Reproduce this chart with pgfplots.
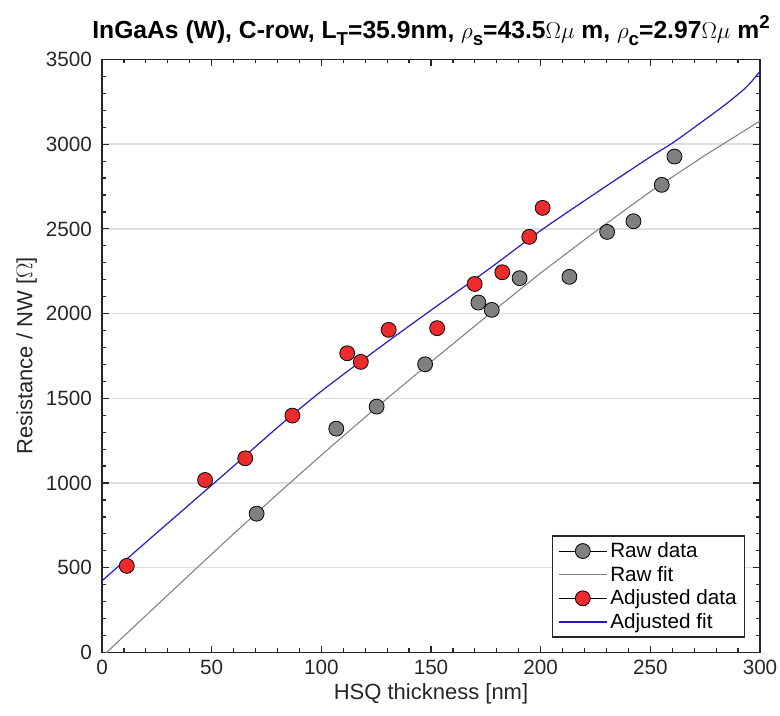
\documentclass[border=0pt]{standalone}
\usepackage{pgfplots}
\pgfplotsset{compat=1.18}
\usepackage{fontspec}
\setmainfont{Liberation Sans}
\usetikzlibrary{calc}
\definecolor{mgray}{RGB}{128,128,128}
\definecolor{mred}{RGB}{236,44,44}
\definecolor{mblue}{RGB}{40,25,200}
\definecolor{axc}{RGB}{38,38,38}
\definecolor{gridc}{RGB}{222,222,222}
\newcommand\tsub[1]{\raisebox{-0.55ex}{\fontsize{14}{15}\selectfont #1}}
\newcommand\tsup[1]{\raisebox{0.75ex}{\fontsize{14}{15}\selectfont #1}}
\pgfplotstableread{
x y
70.5 819
106.8 1321
125.2 1451
147.3 1701
171.6 2065
177.7 2022
190.4 2209
213.1 2217
230.3 2482
242.3 2545
255.2 2760
261.0 2927
}\rawdata
\pgfplotstableread{
x y
11.3 511
47.0 1018
65.3 1146
86.8 1398
111.8 1766
118.0 1715
130.7 1904
152.8 1914
169.9 2175
182.5 2244
194.8 2453
200.9 2624
}\adjdata
\pgfplotstableread{
x y
0 -25
20 218
40 460
60 700
80 935
100 1165
125 1445
150 1715
175 1980
200 2240
225 2485
250 2720
275 2935
300 3137
}\rawfit
\pgfplotstableread{
x y
0 423
20 650
40 875
60 1100
80 1328
100 1542
125 1785
150 2020
175 2250
200 2490
225 2710
250 2925
260 3006
272.7 3124
285 3242
294 3340
300 3430
}\adjfit
\begin{document}
\begin{tikzpicture}
\begin{axis}[
  name=ax,
  scale only axis,
  width=493.5pt, height=444.75pt,
  xmin=0, xmax=300, ymin=0, ymax=3500,
  xtick={0,50,...,300}, ytick={0,500,...,3500},
  minor x tick num=4, minor y tick num=4,
  tick align=inside, xtick pos=both, ytick pos=both,
  major tick length=5pt, minor tick length=3pt,
  axis line style={axc, line width=1.1pt},
  every tick/.style={axc, line width=0.9pt},
  ymajorgrids,
  major grid style={gridc, line width=1.1pt},
  tick label style={font=\fontsize{15.5}{17}\selectfont, text=axc},
  /pgf/number format/assume math mode=true,
  /pgf/number format/1000 sep={},
  xticklabel style={yshift=-2pt},
  yticklabel style={xshift=-4pt},
  xlabel={HSQ thickness [nm]},
  ylabel={Resistance / NW [$\Omega$]},
  label style={font=\fontsize{16.5}{18}\selectfont, text=axc},
  title={\textbf{InGaAs (W), C-row, L\tsub{T}=35.9nm, $\rho$\tsub{s}=43.5$\Omega\mu$ m, $\rho$\tsub{c}=2.97$\Omega\mu$ m\tsup{2}}},
  title style={font=\fontsize{18.5}{20}\selectfont, yshift=1pt},
  legend cell align=left,
  legend style={at={(1,0)}, anchor=south east, xshift=-11pt, yshift=11pt,
    draw=axc, line width=1pt, font=\fontsize{15.5}{17}\selectfont,
    inner xsep=4pt, inner ysep=3pt, row sep=1pt},
  clip=true,
]
\addplot[only marks, mark=*, mark size=5.6pt, mark options={fill=mgray, draw=black, line width=0.6pt},
  legend image code/.code={\draw[black, line width=0.6pt] (0pt,0pt) -- (36pt,0pt); \draw[black, fill=mgray, line width=0.6pt] (18pt,0pt) circle (5.6pt);}]
  table[x=x,y=y] {\rawdata};
\addlegendentry{Raw data}
\addplot[mgray, line width=0.8pt, no marks,
  legend image code/.code={\draw[draw=mgray, line width=1.2pt] (0pt,0pt) -- (36pt,0pt);}]
  table[x=x,y=y] {\rawfit};
\addlegendentry{Raw fit}
\addplot[only marks, mark=*, mark size=5.6pt, mark options={fill=mred, draw=black, line width=0.6pt},
  legend image code/.code={\draw[black, line width=0.6pt] (0pt,0pt) -- (36pt,0pt); \draw[black, fill=mred, line width=0.6pt] (18pt,0pt) circle (5.6pt);}]
  table[x=x,y=y] {\adjdata};
\addlegendentry{Adjusted data}
\addplot[mblue, line width=0.9pt, no marks, smooth,
  legend image code/.code={\draw[draw=mblue, line width=1.2pt] (0pt,0pt) -- (36pt,0pt);}]
  table[x=x,y=y] {\adjfit};
\addlegendentry{Adjusted fit}
\end{axis}
\pgfresetboundingbox
\path ($(ax.south west)+(-76.5pt,-47pt)$) rectangle ($(ax.north east)+(15pt,44.6pt)$);
\end{tikzpicture}
\end{document}
